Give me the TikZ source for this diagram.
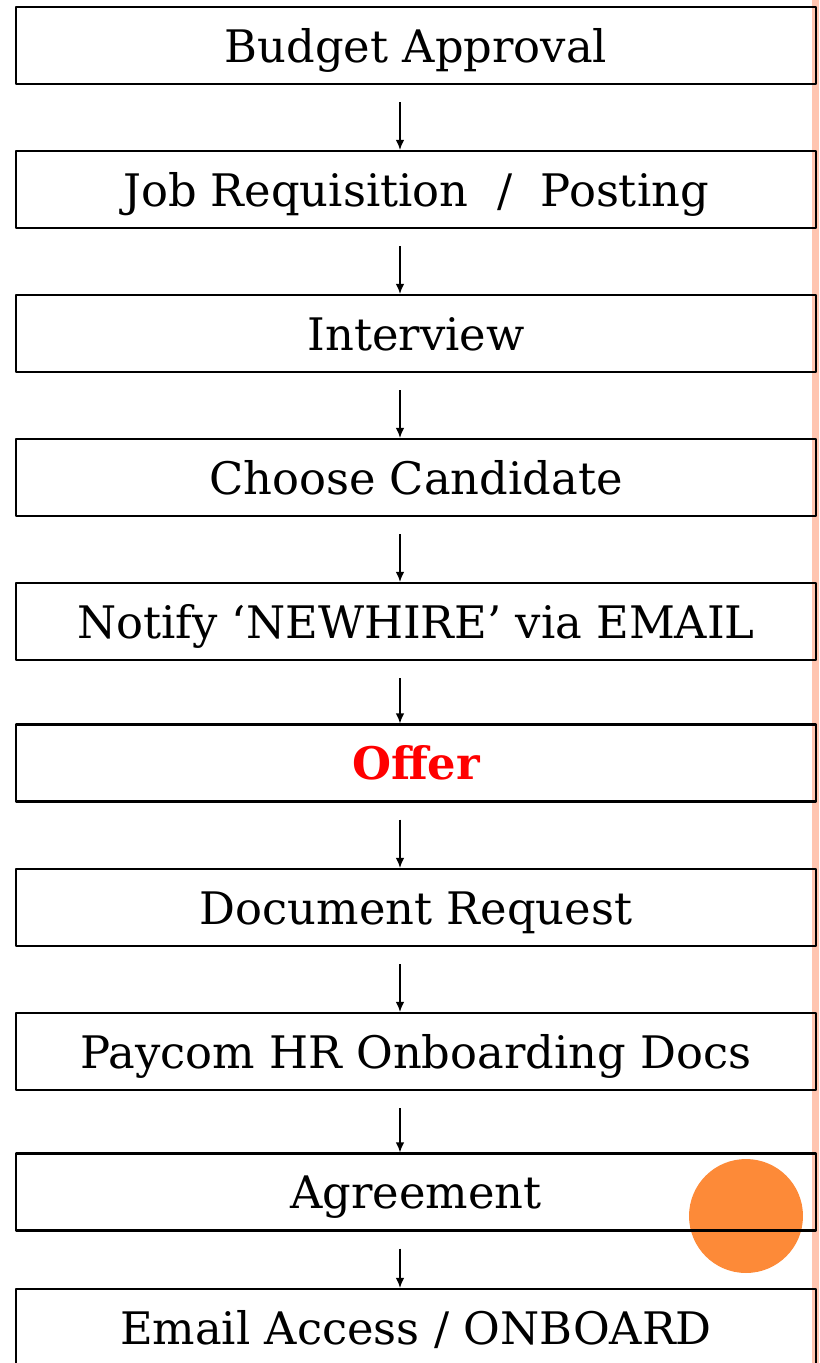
\documentclass[tikz,border=0pt]{standalone}
\usepackage{fontspec}
\setmainfont{DejaVu Serif}
\usetikzlibrary{arrows.meta}
\definecolor{dotorange}{HTML}{FD8A38}
\definecolor{barsalmon}{HTML}{FFC5B0}
\begin{document}
\begin{tikzpicture}[x=.02cm,y=-.02cm,>={Latex[length=2mm,width=1.7mm]},line join=round,
	font=\fontsize{25.5}{30}\selectfont,
	stepbox/.style={draw,line width=1.3pt,minimum width=16cm,minimum height=1.54cm,inner sep=0pt,
		text height=19pt,text depth=0pt},
	link/.style={->,line width=.75pt}]
	\useasboundingbox (0,0) rectangle (819,1363);
	\clip (0,0) rectangle (819,1363);
	% side bar and dot
	\fill[barsalmon] (812,0) rectangle (819,1363);
	\fill[dotorange] (746,1216) circle (1.14cm);
	% steps
	\node[stepbox] (budget) at (416,45.5) {Budget Approval};
	\node[stepbox] (job) at (416,189.5) {Job Requisition\ \ /\ \ Posting};
	\node[stepbox] (interview) at (416,333.5) {Interview};
	\node[stepbox] (choose) at (416,477.5) {Choose Candidate};
	\node[stepbox] (notify) at (416,621.5) {Notify ‘NEWHIRE’ via EMAIL};
	\node[stepbox] (offer) at (416,763) {\textbf{\color{red}Offer}};
	\node[stepbox] (docreq) at (416,907.5) {Document Request};
	\node[stepbox] (paycom) at (416,1051.5) {Paycom HR Onboarding Docs};
	\node[stepbox] (agree) at (416,1192) {Agreement};
	\node[stepbox] (email) at (416,1327.5) {Email Access / ONBOARD};
	\foreach \a/\b in {budget/job,job/interview,interview/choose,choose/notify,notify/offer,
		offer/docreq,docreq/paycom,paycom/agree,agree/email}{
		\draw[link] ([xshift=-.32cm,yshift=-.34cm]\a.south) -- ([xshift=-.32cm]\b.north);
	}
\end{tikzpicture}
\end{document}
